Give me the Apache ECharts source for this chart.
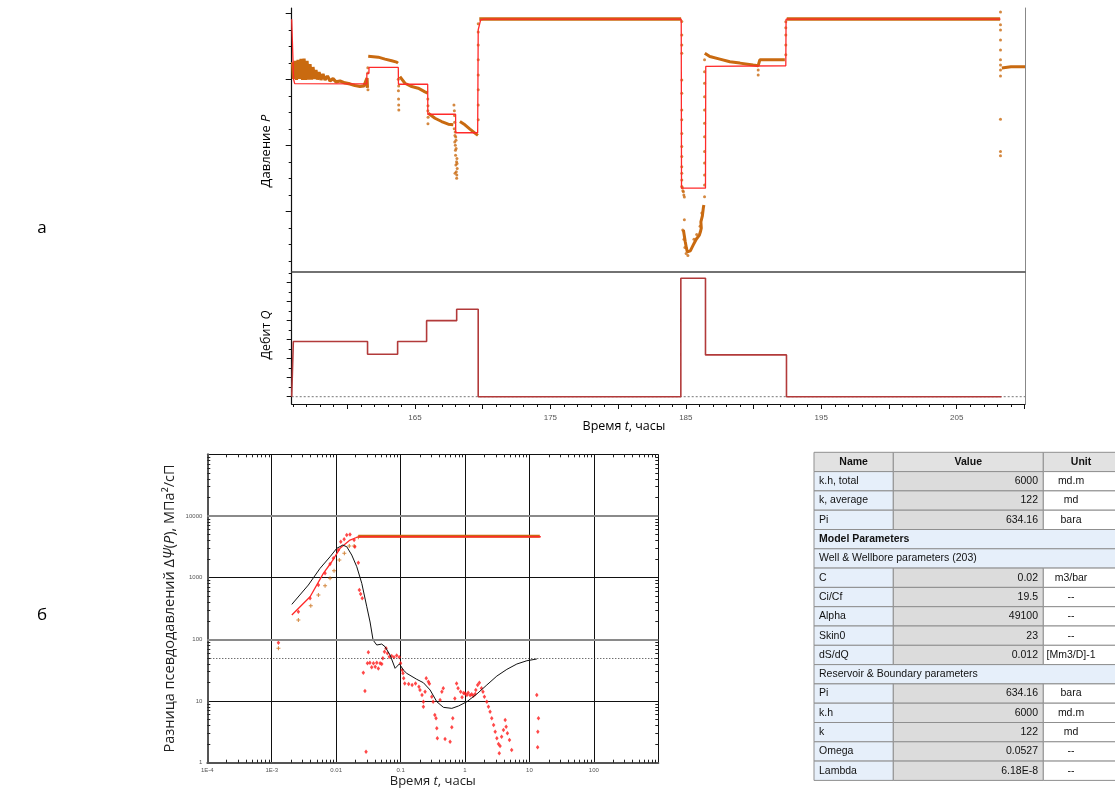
<!DOCTYPE html>
<html>
<head>
<meta charset="utf-8">
<script src="https://cdn.jsdelivr.net/npm/echarts@6/dist/echarts.min.js"></script>
<style>
html, body { margin: 0; padding: 0; background: #fff; }
#main { width: 1115px; height: 793px; }
</style>
</head>
<body>
<div id="main"></div>
<script>
// ---------- (а) давление и дебит ----------
const T_MIN = 155.9, T_MAX = 210.04
const P_MIN = 557.6, P_MAX = 637.6
const Q_MIN = -38.4, Q_MAX = 656

const timeLabels = [165, 175, 185, 195, 205]
const timeMajorTicks = [160, 165, 170, 175, 180, 185, 190, 195, 200, 205, 210]
const pressureTicks = [576, 596, 616, 636]
const rateTicks = [0, 100, 200, 300, 400, 500, 600]

// модельное давление (красная линия)
const pressureModel = [
  [155.90, 634.2], [156.02, 634.2], [156.04, 616.0], [156.12, 614.7], [156.25, 614.6],
  [161.44, 614.6], [161.45, 617.8], [161.60, 617.8], [161.61, 619.6], [163.77, 619.6],
  [163.78, 614.5], [165.94, 614.5], [165.95, 605.4], [168.00, 605.4], [168.01, 599.8],
  [169.63, 599.8], [169.67, 631.0], [169.85, 634.0], [170.10, 634.2], [184.66, 634.2],
  [184.68, 583.0], [186.45, 583.0], [186.47, 619.9], [192.38, 620.1], [192.40, 634.2],
  [208.23, 634.2]
]

// замеры давления (оранжевые участки)
const pressBand1 = [
  [155.96, 621.2], [156.03, 616.1], [156.14, 621.6], [156.25, 615.8], [156.37, 621.9],
  [156.48, 616.1], [156.59, 622.2], [156.70, 615.8], [156.81, 622.3], [156.92, 615.8],
  [157.03, 621.6], [157.14, 615.9], [157.25, 620.6], [157.36, 615.9], [157.47, 619.7],
  [157.58, 616.1], [157.69, 618.8], [157.80, 615.9], [157.92, 618.2], [158.06, 615.8],
  [158.21, 617.6], [158.36, 615.8], [158.54, 617.0], [158.73, 615.5], [158.95, 616.2],
  [159.17, 615.2], [159.47, 615.5], [159.83, 614.9], [160.20, 614.6], [160.57, 614.1],
  [160.94, 613.8], [161.24, 614.0], [161.38, 614.6], [161.46, 616.4], [161.49, 613.4]
]
const pressBand2 = [
  [161.55, 623.0], [161.68, 623.4], [162.29, 622.7], [162.79, 622.1], [163.28, 621.6],
  [163.65, 621.2], [163.75, 620.9]
]
const pressBand3 = [
  [163.89, 616.8], [164.26, 614.8], [164.76, 613.8], [165.24, 613.3], [165.74, 612.2],
  [165.94, 611.8]
]
const pressBand4 = [
  [165.98, 605.7], [166.48, 604.2], [166.97, 603.2], [167.46, 602.4], [167.83, 602.2]
]
const pressBand5 = [
  [168.32, 603.2], [168.69, 602.2], [169.06, 600.9], [169.55, 599.3], [169.65, 599.0]
]
const pressTop1 = [[169.75, 634.3], [184.65, 634.3]]
const pressBand6 = [
  [184.82, 570.3], [184.89, 568.5], [184.96, 566.7], [185.04, 564.9], [185.11, 563.7],
  [185.22, 563.4], [185.33, 564.0], [185.44, 564.9], [185.55, 565.8], [185.66, 566.7],
  [185.78, 567.6], [185.89, 568.2], [186.00, 568.8], [186.07, 569.7], [186.14, 570.9],
  [186.11, 572.8], [186.22, 574.6], [186.29, 577.0], [186.33, 577.9]
]
const pressBand7 = [
  [186.40, 623.9], [186.77, 622.9], [187.51, 622.1], [188.25, 621.3], [188.99, 620.9],
  [189.97, 620.3], [190.34, 620.1], [190.40, 620.1], [190.46, 621.9], [192.31, 621.9]
]
const pressTop2 = [[192.45, 634.3], [208.20, 634.3]]
const pressBand8 = [[208.33, 619.4], [209.00, 619.8], [210.04, 619.8]]

const pressDots = [
  [161.52, 617.9], [161.52, 619.5], [161.53, 612.8],
  [163.77, 616.0], [163.78, 612.5], [163.79, 610.0], [163.80, 608.2], [163.81, 606.7], [163.80, 614.0],
  [165.95, 610.0], [165.96, 608.0], [165.95, 606.5], [165.97, 604.5], [165.96, 602.5],
  [167.88, 608.2], [167.92, 605.0], [167.90, 601.0], [167.95, 599.0], [167.98, 596.0],
  [168.00, 593.0], [168.10, 592.0], [168.02, 590.0], [168.12, 589.0], [168.05, 588.0],
  [167.96, 587.5], [168.08, 586.0], [167.93, 603.0], [168.03, 597.5], [167.99, 594.5],
  [168.07, 591.0], [167.94, 597.0], [168.04, 595.0], [168.11, 590.5], [167.97, 600.0],
  [168.01, 598.5], [168.09, 587.0], [167.91, 606.5],
  [169.67, 603.7], [169.67, 608.2], [169.67, 612.8], [169.67, 617.3], [169.67, 621.9],
  [169.67, 626.4], [169.67, 630.3], [169.67, 632.8],
  [184.70, 633.5], [184.70, 629.4], [184.70, 626.4], [184.70, 623.9], [184.70, 615.8],
  [184.70, 611.8], [184.70, 606.7], [184.70, 603.7], [184.70, 599.6], [184.70, 595.6],
  [184.70, 592.6], [184.70, 589.5], [184.70, 587.5], [184.70, 585.5], [184.70, 583.5],
  [184.74, 583.1], [184.82, 581.9], [184.85, 580.9], [184.89, 580.3], [184.78, 582.2],
  [184.89, 573.4], [184.77, 570.3], [184.86, 567.5], [184.93, 565.0], [185.02, 563.2],
  [185.15, 562.6], [185.60, 567.5], [185.80, 569.0], [186.05, 571.5], [186.18, 575.5],
  [186.38, 580.4], [186.38, 584.0], [186.38, 587.0], [186.38, 590.6], [186.38, 594.1],
  [186.38, 598.6], [186.38, 602.7], [186.38, 606.7], [186.38, 610.7], [186.38, 614.8],
  [186.38, 618.3], [186.38, 621.9],
  [190.34, 617.3], [190.34, 618.8],
  [192.38, 623.4], [192.38, 626.4], [192.38, 629.4], [192.38, 631.6], [192.38, 633.4],
  [208.23, 636.4], [208.23, 632.5], [208.23, 630.9], [208.23, 627.9], [208.23, 624.9],
  [208.23, 621.9], [208.23, 620.3], [208.23, 618.8], [208.23, 617.0], [208.23, 603.9],
  [208.23, 594.1], [208.23, 592.8]
]

// дебит
const rateTimes = [155.90, 156.02, 161.50, 163.72, 165.86, 168.08, 169.67, 184.63, 186.45, 192.43, 208.30]
const rateValues = [0, 290, 223, 290, 400, 460, 0, 623, 220, 0, 0]
const rateZero = [[T_MIN, 0], [T_MAX, 0]]

// ---------- (б) диагностический график ----------
const logXLabels = ['1E-4', '1E-3', '0.01', '0.1', '1', '10', '100', '']
const logYLabels = ['1', '10', '100', '1000', '10000', '']

const dpPoints = [
  [0.00127, 71.5], [0.00259, 206], [0.00404, 350], [0.0053, 522], [0.00673, 739],
  [0.00804, 975], [0.00927, 1294], [0.0112, 1928], [0.0134, 2477], [0.016, 3250],
  [0.019, 3250], [0.0221, 4500]
]
const dpPlateau = [[0.0221, 4680], [14.5, 4680]]
const dpModel = [
  [0.00205, 248], [0.00394, 490], [0.00633, 1175], [0.00855, 1811], [0.0115, 2985],
  [0.0164, 4067], [0.0221, 4602], [15.0, 4602]
]
const derivPoints = [
  [0.00127, 88], [0.00259, 280], [0.00394, 462], [0.0053, 759], [0.00673, 1175],
  [0.00804, 1660], [0.00906, 2055], [0.0108, 2800], [0.0118, 3819], [0.0133, 4178],
  [0.0146, 4900], [0.0164, 5000], [0.019, 4067], [0.0195, 3170], [0.0221, 1742],
  [0.0229, 629], [0.024, 542], [0.0254, 462],
  [0.0264, 28.7], [0.028, 14.5], [0.0291, 1.51], [0.0316, 61.5], [0.0306, 40.9],
  [0.0334, 41.8], [0.0356, 35.2], [0.0379, 40.9], [0.0404, 36], [0.0427, 41.8],
  [0.0451, 33.8], [0.0481, 40.9], [0.051, 39.8], [0.053, 49.2], [0.0562, 62.9],
  [0.0594, 71.5], [0.0625, 59.3], [0.067, 52.2], [0.0727, 53.5], [0.079, 51.1],
  [0.087, 54.6], [0.0955, 51.1],
  [0.1, 40.8], [0.106, 31.8], [0.109, 28.1], [0.1116, 23.3], [0.116, 19.3],
  [0.1334, 18.8], [0.151, 18.2], [0.1705, 19.3], [0.1925, 17.1], [0.2, 15.1],
  [0.215, 12.5], [0.226, 9.74], [0.226, 8.1], [0.24, 14.2], [0.25, 23.3],
  [0.27, 20.5], [0.28, 19.0], [0.305, 11.7], [0.32, 9.74], [0.34, 5.93], [0.355, 5.24],
  [0.365, 3.61], [0.372, 2.48], [0.41, 10.4], [0.437, 14.2], [0.46, 16.1],
  [0.49, 2.42], [0.587, 2.19], [0.624, 3.74], [0.646, 5.24], [0.695, 11.0],
  [0.74, 19.3], [0.78, 16.1], [0.855, 14.2], [0.9, 11.5], [0.95, 13.5], [1.0, 13.2],
  [1.07, 12.5], [1.12, 13.6], [1.2, 12.4], [1.27, 12.9], [1.35, 12.2], [1.44, 13.0],
  [1.47, 15.1], [1.57, 18.2], [1.67, 19.8], [1.8, 16.1], [1.9, 14.2], [2.0, 11.7],
  [2.18, 9.74], [2.31, 8.1], [2.45, 6.7], [2.6, 5.24], [2.78, 4.08], [2.94, 3.18],
  [3.12, 2.48], [3.31, 2.01], [3.5, 1.86], [3.4, 1.42], [3.7, 2.64], [3.95, 3.39],
  [4.2, 4.92], [4.35, 3.83], [4.55, 3.0], [4.9, 2.33], [5.3, 1.61],
  [13.0, 12.5], [13.8, 5.24], [13.5, 3.18], [13.4, 1.78]
]
const derivModel = [
  [0.00205, 369], [0.0037, 759], [0.00562, 1415], [0.00804, 2182], [0.0102, 2985],
  [0.01265, 3376], [0.01462, 3170], [0.01746, 2324], [0.0209, 1502], [0.025, 808],
  [0.0299, 337], [0.0336, 191], [0.0374, 97.4], [0.0427, 80.9], [0.051, 83.9],
  [0.0574, 75.9], [0.0687, 55.7], [0.0822, 33.9], [0.096, 40], [0.1104, 31.8],
  [0.1247, 28.1], [0.178, 22.5], [0.226, 19.8], [0.287, 15.1], [0.365, 9.74],
  [0.462, 7.9], [0.624, 7.6], [0.791, 8.3], [1.067, 9.74], [1.525, 13.0],
  [2.18, 18.2], [3.12, 25.4], [4.46, 32.6], [6.37, 39.8], [9.12, 45], [13.0, 48]
]
const stabilizationLevel = 50

// ---------- таблица параметров ----------
const tableHeader = ['Name', 'Value', 'Unit']
const rowNames = ['k.h, total', 'k, average', 'Pi', 'Model Parameters', 'Well & Wellbore parameters (203)',
  'C', 'Ci/Cf', 'Alpha', 'Skin0', 'dS/dQ', 'Reservoir & Boundary parameters',
  'Pi', 'k.h', 'k', 'Omega', 'Lambda']
const rowValues = ['6000', '122', '634.16', null, null, '0.02', '19.5', '49100', '23', '0.012', null,
  '634.16', '6000', '122', '0.0527', '6.18E-8']
const rowUnits = ['md.m', 'md', 'bara', null, null, 'm3/bar', '--', '--', '--', '[Mm3/D]-1', null,
  'bara', 'md.m', 'md', '--', '--']

// ---------- оформление ----------
const ORANGE = '#c96a10'
const RED = '#ff2a2a'
const RATE_RED = '#b23a3a'
const TICK_FONT = 'Liberation Sans'
const TITLE_FONT = 'Open Sans'

const range = (from, to, step) => {
  const out = []
  for (let v = from; v <= to + 1e-9; v += step) out.push(+v.toFixed(6))
  return out
}
const hourTicks = range(156, 210, 1)
const pressureMinor = range(561, 636, 5)
const rateMinor = range(50, 650, 100)
const logMinor = (d0, d1) => {
  const out = []
  for (let d = d0; d <= d1; d++) for (let k = 2; k <= 9; k++) out.push(k * Math.pow(10, d))
  return out
}
const xMinorLog = logMinor(-4, 2)
const yMinorLog = logMinor(0, 4)

const rateData = rateTimes.map((t, i) => [t, rateValues[i]])

const hidden = { show: false }
const lineSeries = (data, xi, yi, color, width, extra) => Object.assign({
  type: 'line', xAxisIndex: xi, yAxisIndex: yi, data,
  showSymbol: false, symbol: 'none', silent: true, animation: false,
  lineStyle: { color, width }
}, extra || {})
const dotSeries = (data, xi, yi, color, symbol, size, extra) => Object.assign({
  type: 'scatter', xAxisIndex: xi, yAxisIndex: yi, data, symbol, symbolSize: size,
  silent: true, animation: false, itemStyle: { color }
}, extra || {})

// таблица из графических элементов
const TX = [814, 893.3, 1043.3, 1122]
const TY0 = 452.3, RH = 19.3
const cellText = 'Liberation Sans'
const tableGraphic = []
const cell = (x0, x1, y, fill) => tableGraphic.push({
  type: 'rect', silent: true, z: 10,
  shape: { x: x0, y: y, width: x1 - x0, height: RH },
  style: { fill, stroke: '#8f8f8f', lineWidth: 1 }
})
const txt = (text, x, y, align, bold) => tableGraphic.push({
  type: 'text', silent: true, z: 11, x, y: y + RH / 2,
  style: { text, fill: '#111', font: (bold ? 'bold ' : '') + '10.5px "' + cellText + '"', textAlign: align, textVerticalAlign: 'middle' }
})
tableHeader.forEach((h, c) => {
  cell(TX[c], TX[c + 1], TY0, '#e2e2e2')
  txt(h, c === 2 ? 1081 : (TX[c] + TX[c + 1]) / 2, TY0, 'center', true)
})
rowNames.forEach((name, i) => {
  const y = TY0 + RH * (i + 1)
  if (rowValues[i] === null) {
    cell(TX[0], TX[3], y, '#e6effa')
    txt(name, 819, y, 'left', name === 'Model Parameters')
  } else {
    cell(TX[0], TX[1], y, '#e6effa')
    cell(TX[1], TX[2], y, '#dcdcdc')
    cell(TX[2], TX[3], y, '#ffffff')
    txt(name, 819, y, 'left', false)
    txt(rowValues[i], 1038, y, 'right', false)
    txt(rowUnits[i], 1071, y, 'center', false)
  }
})

const titleRich = (size) => ({
  n: { fontFamily: TITLE_FONT, fontSize: size, color: '#222' },
  i: { fontFamily: TITLE_FONT, fontSize: size, fontStyle: 'italic', color: '#222' }
})

const graphic = tableGraphic.concat([
  { type: 'text', silent: true, x: 42, y: 228, style: { text: 'а', font: '17px "' + TITLE_FONT + '"', fill: '#000', textAlign: 'center', textVerticalAlign: 'middle' } },
  { type: 'text', silent: true, x: 42, y: 615, style: { text: 'б', font: '17px "' + TITLE_FONT + '"', fill: '#000', textAlign: 'center', textVerticalAlign: 'middle' } },
  { type: 'text', silent: true, x: 624, y: 426, style: { text: '{n|Время }{i|t}{n|, часы}', rich: titleRich(12.5), textAlign: 'center', textVerticalAlign: 'middle' } },
  { type: 'text', silent: true, x: 266, y: 151, rotation: Math.PI / 2, style: { text: '{n|Давление }{i|P}', rich: titleRich(13), textAlign: 'center', textVerticalAlign: 'middle' } },
  { type: 'text', silent: true, x: 266, y: 335, rotation: Math.PI / 2, style: { text: '{n|Дебит }{i|Q}', rich: titleRich(12.5), textAlign: 'center', textVerticalAlign: 'middle' } }
])

const chart = echarts.init(document.getElementById('main'))

chart.setOption({
  animation: false,
  backgroundColor: '#fff',
  graphic,
  grid: [
    { left: 291.7, top: 8, width: 733.3, height: 264 },
    { left: 291.7, top: 272, width: 733.3, height: 132 },
    { left: 207.3, top: 454.3, width: 451, height: 308.4 }
  ],
  xAxis: [
    // 0 давление
    { gridIndex: 0, type: 'value', min: T_MIN, max: T_MAX, show: false },
    // 1 время, подписи
    {
      gridIndex: 1, type: 'value', min: T_MIN, max: T_MAX, position: 'bottom',
      axisLine: { onZero: false, lineStyle: { color: '#111', width: 1.2 } },
      axisTick: { customValues: timeMajorTicks, length: 5, lineStyle: { color: '#111' } },
      axisLabel: { customValues: timeLabels, fontSize: 8, color: '#555', fontFamily: TICK_FONT, margin: 10 },
      splitLine: hidden
    },
    // 2 часовые засечки
    {
      gridIndex: 1, type: 'value', min: T_MIN, max: T_MAX, position: 'bottom',
      axisLine: { show: false, onZero: false },
      axisTick: { customValues: hourTicks, length: 3, lineStyle: { color: '#111' } },
      axisLabel: hidden, splitLine: hidden
    },
    // 3 разделитель панелей
    {
      gridIndex: 1, type: 'value', min: T_MIN, max: T_MAX, position: 'top',
      axisLine: { onZero: false, lineStyle: { color: '#444', width: 1.5 } },
      axisTick: hidden, axisLabel: hidden, splitLine: hidden
    },
    // 4 лог. время
    {
      gridIndex: 2, type: 'log', logBase: 10, min: 1e-4, max: 1000, position: 'bottom',
      axisLine: { onZero: false, lineStyle: { color: '#555', width: 2 } },
      axisTick: hidden,
      axisLabel: {
        fontSize: 6, color: '#555', fontFamily: TICK_FONT, margin: 5,
        formatter: (v) => logXLabels[Math.round(Math.log10(v)) + 4]
      },
      splitLine: { lineStyle: { color: '#111', width: 1 } },
      name: '{n|Время }{i|t}{n|, часы}', nameLocation: 'middle', nameGap: 12,
      nameTextStyle: { rich: titleRich(13) }
    },
    // 5 мелкие засечки снизу
    {
      gridIndex: 2, type: 'log', logBase: 10, min: 1e-4, max: 1000, position: 'bottom',
      axisLine: { show: false, onZero: false },
      axisTick: { inside: true, customValues: xMinorLog, length: 3, lineStyle: { color: '#222' } },
      axisLabel: hidden, splitLine: hidden
    },
    // 6 мелкие засечки сверху
    {
      gridIndex: 2, type: 'log', logBase: 10, min: 1e-4, max: 1000, position: 'top',
      axisLine: { show: false, onZero: false },
      axisTick: { inside: true, customValues: xMinorLog, length: 3, lineStyle: { color: '#222' } },
      axisLabel: hidden, splitLine: hidden
    }
  ],
  yAxis: [
    // 0 давление
    {
      gridIndex: 0, type: 'value', min: P_MIN, max: P_MAX, position: 'left',
      axisLine: { show: true, onZero: false, lineStyle: { color: '#111', width: 1.2 } },
      axisTick: { show: true, customValues: pressureTicks, length: 6, lineStyle: { color: '#111' } },
      axisLabel: hidden, splitLine: hidden
    },
    // 1 мелкие засечки давления
    {
      gridIndex: 0, type: 'value', min: P_MIN, max: P_MAX, position: 'left',
      axisLine: { show: false, onZero: false },
      axisTick: { show: true, customValues: pressureMinor, length: 3, lineStyle: { color: '#111' } },
      axisLabel: hidden, splitLine: hidden
    },
    // 2 правая граница
    {
      gridIndex: 0, type: 'value', min: P_MIN, max: P_MAX, position: 'right',
      axisLine: { show: true, onZero: false, lineStyle: { color: '#888', width: 1 } },
      axisTick: hidden, axisLabel: hidden, splitLine: hidden
    },
    // 3 дебит
    {
      gridIndex: 1, type: 'value', min: Q_MIN, max: Q_MAX, position: 'left',
      axisLine: { show: true, onZero: false, lineStyle: { color: '#111', width: 1.2 } },
      axisTick: { show: true, customValues: rateTicks, length: 5, lineStyle: { color: '#111' } },
      axisLabel: hidden, splitLine: hidden
    },
    // 4 мелкие засечки дебита
    {
      gridIndex: 1, type: 'value', min: Q_MIN, max: Q_MAX, position: 'left',
      axisLine: { show: false, onZero: false },
      axisTick: { show: true, customValues: rateMinor, length: 3, lineStyle: { color: '#111' } },
      axisLabel: hidden, splitLine: hidden
    },
    // 5 правая граница
    {
      gridIndex: 1, type: 'value', min: Q_MIN, max: Q_MAX, position: 'right',
      axisLine: { show: true, onZero: false, lineStyle: { color: '#888', width: 1 } },
      axisTick: hidden, axisLabel: hidden, splitLine: hidden
    },
    // 6 лог. разница псевдодавлений
    {
      gridIndex: 2, type: 'log', logBase: 10, min: 1, max: 100000, position: 'left',
      axisLine: { show: true, onZero: false, lineStyle: { color: '#555', width: 2 } },
      axisTick: hidden,
      axisLabel: {
        fontSize: 6, color: '#555', fontFamily: TICK_FONT, margin: 5,
        formatter: (v) => logYLabels[Math.round(Math.log10(v))]
      },
      splitLine: { lineStyle: { color: '#111', width: 1 } },
      name: '{n|Разница псевдодавлений Δ}{i|Ψ}{n|(}{i|P}{n|), МПа²/сП}',
      nameLocation: 'middle', nameGap: 30,
      nameTextStyle: { rich: titleRich(14.5) }
    },
    // 7 мелкие засечки слева
    {
      gridIndex: 2, type: 'log', logBase: 10, min: 1, max: 100000, position: 'left',
      axisLine: { show: false, onZero: false },
      axisTick: { show: true, inside: true, customValues: yMinorLog, length: 3, lineStyle: { color: '#222' } },
      axisLabel: hidden, splitLine: hidden
    },
    // 8 мелкие засечки справа
    {
      gridIndex: 2, type: 'log', logBase: 10, min: 1, max: 100000, position: 'right',
      axisLine: { show: false, onZero: false },
      axisTick: { show: true, inside: true, customValues: yMinorLog, length: 3, lineStyle: { color: '#222' } },
      axisLabel: hidden, splitLine: hidden
    }
  ],
  series: [
    // --- давление ---
    lineSeries(pressBand1, 0, 0, ORANGE, 3.2),
    lineSeries(pressBand2, 0, 0, ORANGE, 3),
    lineSeries(pressBand3, 0, 0, ORANGE, 3),
    lineSeries(pressBand4, 0, 0, ORANGE, 3),
    lineSeries(pressBand5, 0, 0, ORANGE, 3),
    lineSeries(pressTop1, 0, 0, ORANGE, 3.5),
    lineSeries(pressBand6, 0, 0, ORANGE, 3),
    lineSeries(pressBand7, 0, 0, ORANGE, 3),
    lineSeries(pressTop2, 0, 0, ORANGE, 3.5),
    lineSeries(pressBand8, 0, 0, ORANGE, 3),
    dotSeries(pressDots, 0, 0, ORANGE, 'circle', 3),
    lineSeries(pressureModel, 0, 0, RED, 1.3),
    // --- дебит ---
    lineSeries(rateZero, 1, 3, '#777', 1, { lineStyle: { color: '#777', width: 1, type: [2, 2] } }),
    lineSeries(rateData, 1, 3, RATE_RED, 1.6, { step: 'end' }),
    // --- лог. график ---
    lineSeries([], 4, 6, '#000', 1, {
      markLine: {
        silent: true, symbol: 'none', label: hidden, animation: false,
        data: [
          { yAxis: 100, lineStyle: { color: '#8a8a8a', width: 2, type: 'solid' } },
          { yAxis: 10000, lineStyle: { color: '#8a8a8a', width: 2, type: 'solid' } },
          { yAxis: stabilizationLevel, lineStyle: { color: '#333', width: 1, type: [1, 2] } }
        ]
      }
    }),
    lineSeries(dpPlateau, 4, 6, ORANGE, 3),
    dotSeries(dpPoints, 4, 6, ORANGE, 'path://M3,0H5V3H8V5H5V8H3V5H0V3H3Z', 4),
    dotSeries(derivPoints, 4, 6, '#ff1a1a', 'diamond', [3.5, 4.5]),
    lineSeries(dpModel, 4, 6, RED, 1.3),
    lineSeries(derivModel, 4, 6, '#111', 1)
  ]
})
</script>
</body>
</html>
